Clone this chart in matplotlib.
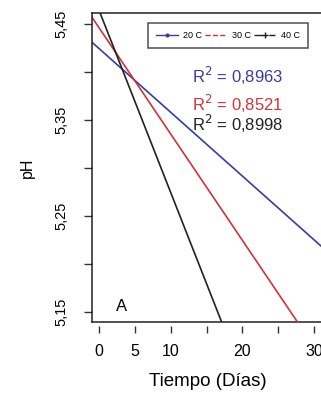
import matplotlib.pyplot as plt
from matplotlib.lines import Line2D

plt.rcParams['font.family'] = ['Liberation Sans', 'DejaVu Sans']

# fitted lines, read at the ends of the plotted range
dias = [-1, 32]
ph_20 = [5.431, 5.212]
ph_30 = [5.457, 5.092]
ph_40 = [5.483, 4.857]

series = ['20 C', '30 C', '40 C']
r2 = ['0,8963', '0,8521', '0,8998']
colors = ['#3a3aa8', '#d0333a', '#222222']

x_ticks = [0, 5, 10, 15, 20, 25, 30]
x_labels = ['0', '5', '10', '', '20', '', '30']
y_ticks = [5.15, 5.20, 5.25, 5.30, 5.35, 5.40, 5.45]
y_labels = ['5,15', '', '5,25', '', '5,35', '', '5,45']

fig = plt.figure(figsize=(3.21, 3.98), dpi=100)
ax = fig.add_axes([92 / 321, 76 / 398, 232 / 321, 309 / 398])

# R style: x ticks hang a little below the box
ax.spines['bottom'].set_position(('outward', 3))
ax.spines['bottom'].set_visible(False)
ax.plot([0, 1], [0, 0], transform=ax.transAxes, color='#222222', lw=1.1, clip_on=False)

for ph, c in zip([ph_20, ph_30, ph_40], colors):
    ax.plot(dias, ph, color=c, lw=1.2)

ax.set_xlim(-1, 31.4)
ax.set_ylim(5.1396, 5.4615)

ax.set_xticks(x_ticks)
ax.set_xticklabels(x_labels, fontsize=11.5)
ax.set_yticks(y_ticks)
ax.set_yticklabels(y_labels, fontsize=10.5, rotation=90, va='center')
ax.tick_params(axis='both', length=6, width=1, color='#333333')
ax.tick_params(axis='y', pad=11)
ax.tick_params(axis='x', length=5, pad=8)
for s in ax.spines.values():
    s.set_linewidth(1.1)
    s.set_color('#222222')

ax.set_xlabel('Tiempo (Días)', fontsize=13.5, labelpad=10)
ax.set_ylabel('pH', fontsize=11.5, labelpad=14)

ax.text(2.3, 5.1515, 'A', fontsize=12)

for i, (lab, c) in enumerate(zip(r2, colors)):
    y = [5.3957, 5.3665, 5.3456][i]
    ax.text(12.9, y, r'R$^2$ = ' + lab, color=c, fontsize=12, va='center')

handles = [
    Line2D([], [], color=colors[0], lw=1, marker='o', markersize=2),
    Line2D([], [], color=colors[1], lw=1, ls='--'),
    Line2D([], [], color=colors[2], lw=1, ls='-.', marker='+', markersize=4),
]
leg = ax.legend(handles, series, ncol=3, fontsize=6.5, loc='upper left',
                bbox_to_anchor=(148 / 321, 1 - 23 / 398), bbox_transform=fig.transFigure,
                frameon=True, fancybox=False, edgecolor='#222222',
                handlelength=2.4, columnspacing=0.3, handletextpad=0.6,
                borderpad=0.9, borderaxespad=0)
leg.get_frame().set_linewidth(1.1)

fig.savefig('out.png', dpi=100)
